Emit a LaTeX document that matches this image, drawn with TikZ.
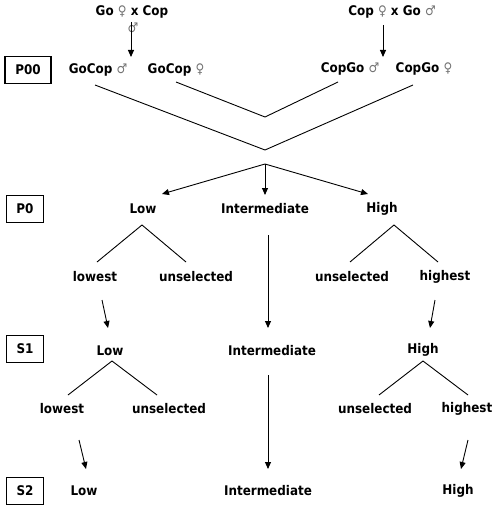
\documentclass[tikz,border=0pt]{standalone}
\usepackage{fontspec}
\setmainfont{DejaVu Sans Condensed}
\usetikzlibrary{arrows.meta}
\newcommand\gfem{{\mdseries\color{black!55}♀}}
\newcommand\gmal{{\mdseries\color{black!55}♂}}
\begin{document}
\begin{tikzpicture}[x=1pt,y=-1pt,
  lab/.style={font=\bfseries\fontsize{13.3}{15}\selectfont, inner sep=1pt},
  gsym/.style={font=\fontsize{13.3}{15}\selectfont, text=black!55, inner sep=0pt},
  stagebox/.style={draw, line width=1.5pt, minimum width=37pt, minimum height=27pt, inner sep=0pt, font=\bfseries\fontsize{13.3}{15}\selectfont},
  ln/.style={line width=0.9pt},
  arr/.style={line width=0.9pt, -{Triangle[length=7pt,width=6pt]}}]
\useasboundingbox (0,0) rectangle (498,511);
% parents
\node[lab] (gxc) at (132,12) {Go \gfem{} x Cop};
\node[gsym] (gxcm) at (133,28) {♂};
\node[lab] (cxg) at (392,12) {Cop \gfem{} x Go \gmal};
\coordinate (a1s) at (131,22); \coordinate (a1e) at (131,57);
\coordinate (a2s) at (383,25); \coordinate (a2e) at (383,57);
\draw[arr] (a1s) -- (a1e);
\draw[arr] (a2s) -- (a2e);
% P00
\node[stagebox, minimum width=46pt] (p00) at (28,70) {P00};
\node[lab] (gcm) at (98,70) {GoCop \gmal};
\node[lab] (gcf) at (176,70) {GoCop \gfem};
\node[lab] (cgm) at (350,69) {CopGo \gmal};
\node[lab] (cgf) at (424,69) {CopGo \gfem};
\coordinate (o1) at (95,85); \coordinate (o2) at (413,85); \coordinate (ob) at (265,150);
\coordinate (i1) at (176,82); \coordinate (i2) at (338,82); \coordinate (ib) at (265,117);
\draw[ln] (o1) -- (ob) -- (o2);
\draw[ln] (i1) -- (ib) -- (i2);
% P0
\node[stagebox] (p0) at (25,209) {P0};
\node[lab] (low0) at (143,209) {Low};
\node[lab] (int0) at (265,209) {Intermediate};
\node[lab] (high0) at (382,209) {High};
\coordinate (src) at (265,164);
\coordinate (tl) at (162,194); \coordinate (tm) at (265,195); \coordinate (th) at (368,194);
\draw[arr] (src) -- (tl);
\draw[arr] (src) -- (tm);
\draw[arr] (src) -- (th);
\coordinate (la) at (142,225); \coordinate (ll) at (97,262); \coordinate (lr) at (186,262);
\draw[ln] (ll) -- (la) -- (lr);
\coordinate (ha) at (394,225); \coordinate (hl) at (350,262); \coordinate (hr) at (438,262);
\draw[ln] (hl) -- (ha) -- (hr);
\node[lab] (lowest0) at (95,277) {lowest};
\node[lab] (unl0) at (196,277) {unselected};
\node[lab] (unh0) at (352,277) {unselected};
\node[lab] (highest0) at (445,277) {highest};
% arrows to S1
\coordinate (b1s) at (102,300); \coordinate (b1e) at (108,328);
\coordinate (b2s) at (268,235); \coordinate (b2e) at (268,328);
\coordinate (b3s) at (435,300); \coordinate (b3e) at (430,328);
\draw[arr] (b1s) -- (b1e);
\draw[arr] (b2s) -- (b2e);
\draw[arr] (b3s) -- (b3e);
% S1
\node[stagebox] (s1) at (25,349) {S1};
\node[lab] (low1) at (110,351) {Low};
\node[lab] (int1) at (272,351) {Intermediate};
\node[lab] (high1) at (423,350) {High};
\coordinate (la1) at (112,361); \coordinate (ll1) at (68,395); \coordinate (lr1) at (157,395);
\draw[ln] (ll1) -- (la1) -- (lr1);
\coordinate (ha1) at (423,361); \coordinate (hl1) at (379,395); \coordinate (hr1) at (468,395);
\draw[ln] (hl1) -- (ha1) -- (hr1);
\node[lab] (lowest1) at (62,409) {lowest};
\node[lab] (unl1) at (169,409) {unselected};
\node[lab] (unh1) at (375,409) {unselected};
\node[lab] (highest1) at (467,409) {highest};
% arrows to S2
\coordinate (c1s) at (79,440); \coordinate (c1e) at (86,469);
\coordinate (c2s) at (268,375); \coordinate (c2e) at (268,469);
\coordinate (c3s) at (468,440); \coordinate (c3e) at (461,469);
\draw[arr] (c1s) -- (c1e);
\draw[arr] (c2s) -- (c2e);
\draw[arr] (c3s) -- (c3e);
% S2
\node[stagebox] (s2) at (25,491) {S2};
\node[lab] (low2) at (84,491) {Low};
\node[lab] (int2) at (268,491) {Intermediate};
\node[lab] (high2) at (458,491) {High};
\end{tikzpicture}
\end{document}
